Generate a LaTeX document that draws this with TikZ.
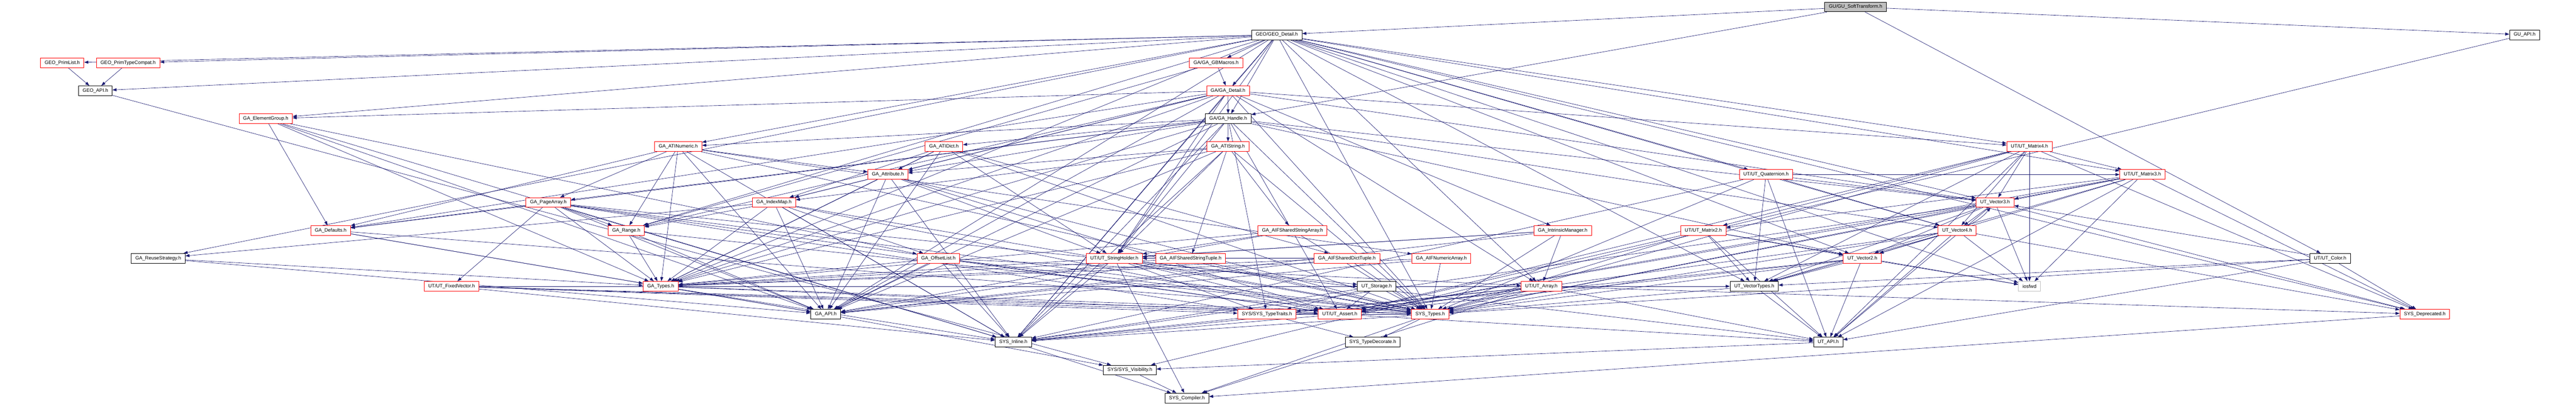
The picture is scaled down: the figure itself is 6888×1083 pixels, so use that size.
\documentclass[tikz,border=0pt]{standalone}
\usepackage{xcolor}
\usepackage{fontspec}
\setmainfont{Liberation Sans}
\usepackage{tikz}
\usetikzlibrary{arrows.meta,positioning}
\pgfdeclarelayer{bg}
\pgfsetlayers{bg,main}
\definecolor{edgeblue}{HTML}{191970}
\definecolor{rootgrey}{HTML}{BFBFBF}

\begin{document}
\begin{tikzpicture}[
			x=1pt, y=-1pt,
			every node/.style={font=\fontsize{13}{15}\selectfont, inner xsep=11pt, inner ysep=0pt, minimum height=26pt, fill=white, line width=1.2pt},
			hdr/.style={draw=black},
			trunc/.style={draw=red},
			root/.style={draw=black, fill=rootgrey},
			sysinc/.style={draw=rootgrey},
			every edge/.style={draw=edgeblue, line width=0.9pt, -{Triangle[length=11pt,width=8pt]}}
			]

				\useasboundingbox (0,0) rectangle (6888,1083);

				% rank 0 - 4
				\node[root] (gusoft) at (4961.5,18.5) {GU/GU\_SoftTransform.h};
				\node[hdr] (geodetail) at (3414,93) {GEO/GEO\_Detail.h};
				\node[hdr] (guapi) at (6750.5,93) {GU\_API.h};
				\node[trunc] (geoprimlist) at (166.5,167.7) {GEO\_PrimList.h};
				\node[trunc] (geoprimtype) at (342.5,167.7) {GEO\_PrimTypeCompat.h};
				\node[trunc] (gagbmacros) at (3251.5,167.7) {GA/GA\_GBMacros.h};
				\node[hdr] (geoapi) at (255,242.3) {GEO\_API.h};
				\node[trunc] (gadetail) at (3283.5,242.3) {GA/GA\_Detail.h};
				\node[trunc] (gaelemgroup) at (710.5,316.9) {GA\_ElementGroup.h};
				\node[hdr] (gahandle) at (3284,316.9) {GA/GA\_Handle.h};

				% rank 5 - 7
				\node[trunc] (gaatinumeric) at (1813.5,391.5) {GA\_ATINumeric.h};
				\node[trunc] (gaatidict) at (2524,391.5) {GA\_ATIDict.h};
				\node[trunc] (gaatistring) at (3283.5,391.5) {GA\_ATIString.h};
				\node[trunc] (utmatrix4) at (5426.5,391.5) {UT/UT\_Matrix4.h};
				\node[trunc] (gaattribute) at (2374,466.1) {GA\_Attribute.h};
				\node[trunc] (utquat) at (4722,466.1) {UT/UT\_Quaternion.h};
				\node[trunc] (utmatrix3) at (5728.5,466.1) {UT/UT\_Matrix3.h};
				\node[trunc] (gapagearray) at (1466,540.7) {GA\_PageArray.h};
				\node[trunc] (gaindexmap) at (2069.5,540.7) {GA\_IndexMap.h};
				\node[trunc] (utvector3) at (5334.5,540.7) {UT\_Vector3.h};

				% rank 8 - 9
				\node[trunc] (gadefaults) at (884,615.3) {GA\_Defaults.h};
				\node[trunc] (garange) at (1674.5,615.3) {GA\_Range.h};
				\node[trunc] (gaaifstrarray) at (3456,615.3) {GA\_AIFSharedStringArray.h};
				\node[trunc] (gaintrinsic) at (4178.5,615.3) {GA\_IntrinsicManager.h};
				\node[trunc] (utmatrix2) at (4554.5,615.3) {UT/UT\_Matrix2.h};
				\node[trunc] (utvector4) at (5233,615.3) {UT\_Vector4.h};
				\node[hdr] (gareuse) at (423,689.9) {GA\_ReuseStrategy.h};
				\node[trunc] (gaoffsetlist) at (2509,689.9) {GA\_OffsetList.h};
				\node[trunc] (utstringholder) at (2979.5,689.9) {UT/UT\_StringHolder.h};
				\node[trunc] (gaaifstrtuple) at (3183.5,689.9) {GA\_AIFSharedStringTuple.h};
				\node[trunc] (gaaifdicttuple) at (3601.5,689.9) {GA\_AIFSharedDictTuple.h};
				\node[trunc] (gaaifnumarray) at (3854,689.9) {GA\_AIFNumericArray.h};
				\node[trunc] (utvector2) at (4979.5,689.9) {UT\_Vector2.h};
				\node[hdr] (utcolor) at (6230.5,689.9) {UT/UT\_Color.h};

				% rank 10 - 14
				\node[trunc] (utfixedvector) at (1207.5,764.5) {UT/UT\_FixedVector.h};
				\node[trunc] (gatypes) at (1766.5,764.5) {GA\_Types.h};
				\node[hdr] (utstorage) at (3681,764.5) {UT\_Storage.h};
				\node[trunc] (utarray) at (4121.5,764.5) {UT/UT\_Array.h};
				\node[hdr] (utvectortypes) at (4690.5,764.5) {UT\_VectorTypes.h};
				\node[sysinc] (iosfwd) at (5426.5,764.5) {iosfwd};
				\node[hdr] (gaapi) at (2208,839.1) {GA\_API.h};
				\node[trunc] (systypetraits) at (3387.5,839.1) {SYS/SYS\_TypeTraits.h};
				\node[trunc] (utassert) at (3582.5,839.1) {UT/UT\_Assert.h};
				\node[trunc] (systypes) at (3824,839.1) {SYS\_Types.h};
				\node[trunc] (sysdeprecated) at (6483.5,839.1) {SYS\_Deprecated.h};
				\node[hdr] (sysinline) at (2709.5,913.7) {SYS\_Inline.h};
				\node[hdr] (systypedecorate) at (3670.5,913.7) {SYS\_TypeDecorate.h};
				\node[hdr] (utapi) at (4888.5,913.7) {UT\_API.h};
				\node[hdr] (sysvis) at (3021,988.3) {SYS/SYS\_Visibility.h};
				\node[hdr] (syscompiler) at (3173.5,1062.9) {SYS\_Compiler.h};

				\begin{pgfonlayer}{bg}
				\path (gusoft) edge (guapi) edge (geodetail) edge (gahandle) edge (utcolor);
				\path (guapi) edge (sysvis);
				\path (geodetail) edge (geoprimlist) edge (geoprimtype) edge (geoapi) edge (gagbmacros) edge (gadetail) edge (gahandle) edge (gaelemgroup) edge (gareuse) edge (gaatinumeric) edge (garange) edge (gatypes) edge (gaapi) edge (utarray) edge (utstringholder) edge (utmatrix4) edge (utmatrix3) edge (utquat) edge (utvector3) edge (utvector4) edge (utvector2) edge (utvectortypes) edge (sysdeprecated) edge (systypes) edge (sysinline) edge (iosfwd);
				\path (geoprimlist) edge (geoapi);
				\path (geoprimtype) edge (geoapi);
				\path (geoapi) edge (sysvis);
				\path (gagbmacros) edge (gadetail) edge (garange);
				\path (gadetail) edge (gahandle) edge (gaelemgroup) edge (gaattribute) edge (gaindexmap) edge (garange) edge (gadefaults) edge (gatypes) edge (gaapi) edge (gaintrinsic) edge (utarray) edge (utstringholder) edge (utvector3) edge (utmatrix4) edge (systypes) edge (sysinline);
				\path (gaelemgroup) edge (gatypes) edge (gaapi) edge (sysinline) edge (gaoffsetlist) edge (gadefaults);
				\path (gahandle) edge (gaatistring) edge (gaatidict) edge (gaatinumeric) edge (gaattribute) edge (gapagearray) edge (gadefaults) edge (gatypes) edge (gaapi) edge (utvector2) edge (utvector3) edge (utvector4) edge (utstringholder) edge (utassert) edge (systypes) edge (sysinline) edge (systypetraits);
				\path (gaatinumeric) edge (gaattribute) edge (gapagearray) edge (gadefaults) edge (garange) edge (gatypes) edge (gaapi) edge (gaaifnumarray) edge (systypes) edge (sysinline);
				\path (gaatidict) edge (gaattribute) edge (gaaifdicttuple) edge (gaindexmap) edge (gatypes) edge (gaapi) edge (utstringholder) edge (systypes);
				\path (gaatistring) edge (gaattribute) edge (gaaifstrtuple) edge (gaaifstrarray) edge (gaindexmap) edge (gatypes) edge (gaapi) edge (utstringholder) edge (systypes) edge (sysinline);
				\path (gaattribute) edge (gaindexmap) edge (gatypes) edge (gaapi) edge (utstringholder) edge (utassert) edge (systypes) edge (sysinline);
				\path (utmatrix4) edge (utvector3) edge (utvector4) edge (utmatrix3) edge (utmatrix2) edge (utvectortypes) edge (utapi) edge (utassert) edge (systypes) edge (sysdeprecated) edge (iosfwd);
				\path (utquat) edge (utvector3) edge (utvector4) edge (utmatrix3) edge (utvectortypes) edge (utapi) edge (systypes) edge (sysinline);
				\path (utmatrix3) edge (utvector3) edge (utvector2) edge (utmatrix2) edge (utvectortypes) edge (utapi) edge (iosfwd) edge (systypes) edge (sysdeprecated) edge (utassert);
				\path (gapagearray) edge (garange) edge (gatypes) edge (gadefaults) edge (utfixedvector) edge (gaapi) edge (utstorage) edge (utassert) edge (sysinline) edge (systypes) edge (systypetraits);
				\path (gaindexmap) edge (garange) edge (gatypes) edge (gaoffsetlist) edge (gareuse) edge (gaapi) edge (utassert) edge (sysinline) edge (systypes);
				\path (utvector3) edge (utvector4) edge (utvector2) edge (utvectortypes) edge (utapi) edge (iosfwd) edge (utassert) edge (systypes) edge (sysinline) edge (sysdeprecated);
				\path (gadefaults) edge (gatypes) edge (gaapi) edge (systypes);
				\path (garange) edge (gatypes) edge (gaapi) edge (systypes);
				\path (gaaifstrarray) edge (gatypes) edge (gaapi) edge (utstringholder) edge (systypes);
				\path (gaintrinsic) edge (utarray) edge (utstringholder) edge (gatypes) edge (gaapi) edge (systypes);
				\path (utmatrix2) edge (utvector2) edge (utvectortypes) edge (utapi) edge (iosfwd) edge (utassert) edge (systypes);
				\path (utvector4) edge[bend right=12] (utvector3) edge (utvector2) edge (utvectortypes) edge (utapi) edge (iosfwd) edge (utassert) edge (systypes) edge (sysdeprecated);
				\path (gareuse) edge (gaapi) edge (gatypes);
				\path (gaoffsetlist) edge (sysinline) edge (gatypes) edge (gaapi) edge (utarray) edge (utassert) edge (systypes);
				\path (utstringholder) edge (sysinline) edge (syscompiler) edge (systypes) edge (utapi) edge (utassert) edge (systypetraits);
				\path (gaaifstrtuple) edge (utstringholder) edge (gatypes) edge (gaapi) edge (systypes);
				\path (gaaifdicttuple) edge (gatypes) edge (gaapi) edge (systypes) edge (utstringholder);
				\path (gaaifnumarray) edge (systypes) edge (gatypes) edge (gaapi);
				\path (utvector2) edge (utvectortypes) edge (utapi) edge (iosfwd) edge (utassert) edge (systypes) edge (sysinline);
				\path (utcolor) edge (utvector3) edge (utvectortypes) edge (utapi) edge (systypes) edge (sysdeprecated);
				\path (utfixedvector) edge (utassert) edge (utstorage) edge (systypes) edge (sysinline) edge (systypetraits) edge (utvectortypes);
				\path (gatypes) edge (gaapi) edge (systypes) edge (utassert) edge (sysinline);
				\path (utstorage) edge (utassert) edge (systypes) edge (sysinline) edge (systypetraits);
				\path (utarray) edge (utassert) edge (systypes) edge (sysinline) edge (utapi) edge (syscompiler) edge (systypetraits) edge (sysdeprecated);
				\path (utvectortypes) edge (utapi) edge (systypes);
				\path (gaapi) edge (sysvis);
				\path (systypetraits) edge (systypes) edge (systypedecorate);
				\path (utassert) edge (utapi) edge (sysinline);
				\path (systypes) edge (systypedecorate) edge (sysinline) edge (syscompiler);
				\path (sysdeprecated) edge (syscompiler);
				\path (sysinline) edge (syscompiler);
				\path (utapi) edge (sysvis);
				\path (sysvis) edge (syscompiler);
				\end{pgfonlayer}

			\end{tikzpicture}
\end{document}
